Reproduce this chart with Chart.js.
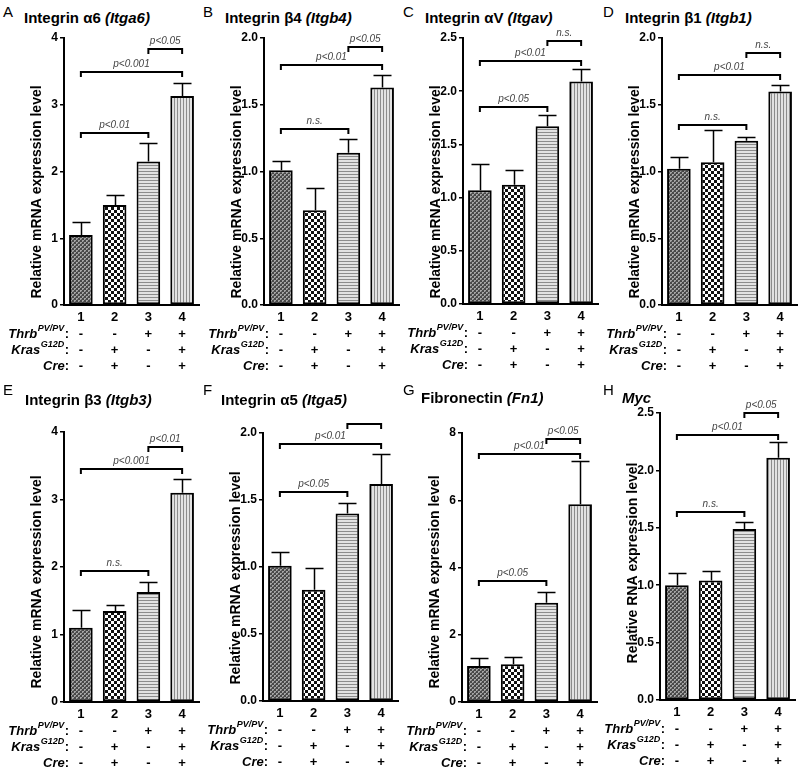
<!DOCTYPE html>
<html><head><meta charset="utf-8">
<script src="https://cdn.jsdelivr.net/npm/chart.js@4.4.1/dist/chart.umd.min.js"></script>
<style>
body{margin:0;background:#fff;}
#wrap{position:relative;width:800px;height:774px;overflow:hidden;font-family:"Liberation Sans",Arial,Helvetica,sans-serif;background:#fff;}
#wrap canvas{position:absolute;}
.lt{position:absolute;font-size:15px;color:#000;line-height:1;white-space:nowrap;}
.tt{position:absolute;font-size:15px;font-weight:bold;color:#000;line-height:1;white-space:nowrap;}
.tt i{font-style:italic;}
</style></head><body><div id="wrap"></div>
<script>
// ---- data ----
const groups = ["1","2","3","4"];
const rowNames = ["Thrb","Kras","Cre"];
const rowSups = ["PV/PV","G12D",""];
const thrbRow = ["-","-","+","+"];
const krasRow = ["-","+","-","+"];
const creRow  = ["-","+","-","+"];

const ticksInt4 = ["0","1","2","3","4"];
const ticks20 = ["0.0","0.5","1.0","1.5","2.0"];
const ticks25 = ["0.0","0.5","1.0","1.5","2.0","2.5"];
const ticks8 = ["0","2","4","6","8"];

const itga6Mean = [1.05, 1.50, 2.15, 3.13];
const itga6Sem  = [0.19, 0.15, 0.28, 0.20];
const itga6Sig  = [[0,2,2.57,"p<0.01"],[0,3,3.49,"p<0.001"],[2,3,3.84,"p<0.05"]];

const itgb4Mean = [1.01, 0.71, 1.14, 1.63];
const itgb4Sem  = [0.07, 0.17, 0.10, 0.09];
const itgb4Sig  = [[0,2,1.32,"n.s."],[0,3,1.80,"p<0.01"],[2,3,1.93,"p<0.05"]];

const itgavMean = [1.07, 1.12, 1.67, 2.09];
const itgavSem  = [0.25, 0.14, 0.11, 0.12];
const itgavSig  = [[0,2,1.85,"p<0.05"],[0,3,2.28,"p<0.01"],[2,3,2.47,"n.s."]];

const itgb1Mean = [1.02, 1.07, 1.23, 1.60];
const itgb1Sem  = [0.09, 0.24, 0.03, 0.05];
const itgb1Sig  = [[0,2,1.35,"n.s."],[0,3,1.72,"p<0.01"],[2,3,1.89,"n.s."]];

const itgb3Mean = [1.10, 1.35, 1.63, 3.10];
const itgb3Sem  = [0.27, 0.09, 0.15, 0.21];
const itgb3Sig  = [[0,2,1.94,"n.s."],[0,3,3.45,"p<0.001"],[2,3,3.78,"p<0.01"]];

const itga5Mean = [1.01, 0.83, 1.40, 1.62];
const itga5Sem  = [0.10, 0.16, 0.08, 0.22];
const itga5Sig  = [[0,2,1.56,"p<0.05"],[0,3,1.92,"p<0.01"],[2,3,2.07,""]];

const fn1Mean = [1.07, 1.12, 2.95, 5.88];
const fn1Sem  = [0.23, 0.23, 0.33, 1.30];
const fn1Sig  = [[0,2,3.60,"p<0.05"],[0,3,7.38,"p<0.01"],[2,3,7.83,"p<0.05"]];

const mycMean = [1.00, 1.04, 1.49, 2.11];
const mycSem  = [0.11, 0.08, 0.06, 0.14];
const mycSig  = [[0,2,1.64,"n.s."],[0,3,2.31,"p<0.01"],[2,3,2.50,"p<0.05"]];

const mrnaTitle = "Relative mRNA expression level";
const rnaTitle = "Relative RNA expression level";

// ---- panels (layout separate from data) ----
const FONT = '"Liberation Sans", Arial, Helvetica, sans-serif';
const panels = [
 {letter:"A", title:'Integrin \u03b16 <i>(Itga6)</i>', px:0,   py:0,   axis:63,  top:38,  bottom:305, max:4,   step:1,   ticks:ticksInt4, mean:itga6Mean, sem:itga6Sem, sig:itga6Sig, ytitle:mrnaTitle, ty:192, lx:3,   tx:24},
 {letter:"B", title:'Integrin \u03b24 <i>(Itgb4)</i>', px:200, py:0,   axis:263, top:38,  bottom:305, max:2,   step:0.5, ticks:ticks20,   mean:itgb4Mean, sem:itgb4Sem, sig:itgb4Sig, ytitle:mrnaTitle, ty:192, lx:203, tx:225},
 {letter:"C", title:'Integrin \u03b1V <i>(Itgav)</i>', px:400, py:0,   axis:462, top:38,  bottom:304, max:2.5, step:0.5, ticks:ticks25,   mean:itgavMean, sem:itgavSem, sig:itgavSig, ytitle:mrnaTitle, ty:192, lx:403, tx:425},
 {letter:"D", title:'Integrin \u03b21 <i>(Itgb1)</i>', px:600, py:0,   axis:661, top:38,  bottom:305, max:2,   step:0.5, ticks:ticks20,   mean:itgb1Mean, sem:itgb1Sem, sig:itgb1Sig, ytitle:mrnaTitle, ty:192, lx:603, tx:625},
 {letter:"E", title:'Integrin \u03b23 <i>(Itgb3)</i>', px:0,   py:387, axis:63,  top:432, bottom:702, max:4,   step:1,   ticks:ticksInt4, mean:itgb3Mean, sem:itgb3Sem, sig:itgb3Sig, ytitle:mrnaTitle, ty:582, lx:3,   tx:25},
 {letter:"F", title:'Integrin \u03b15 <i>(Itga5)</i>', px:200, py:387, axis:262, top:433, bottom:701, max:2,   step:0.5, ticks:ticks20,   mean:itga5Mean, sem:itga5Sem, sig:itga5Sig, ytitle:mrnaTitle, ty:578, lx:203, tx:221},
 {letter:"G", title:'Fibronectin <i>(Fn1)</i>',       px:400, py:387, axis:461, top:433, bottom:702, max:8,   step:2,   ticks:ticks8,    mean:fn1Mean,   sem:fn1Sem,   sig:fn1Sig,   ytitle:mrnaTitle, ty:582, lx:403, tx:421},
 {letter:"H", title:'<i>Myc</i>',                      px:600, py:387, axis:659, top:413, bottom:700, max:2.5, step:0.5, ticks:ticks25,   mean:mycMean,   sem:mycSem,   sig:mycSig,   ytitle:rnaTitle,  ty:563, lx:603, tx:622}
];
const rows = [thrbRow, krasRow, creRow];

function makePattern(kind){
  const c = document.createElement('canvas'); const g = c.getContext('2d');
  if(kind===0){ c.width=4;c.height=4; g.fillStyle='#a4a4a4'; g.fillRect(0,0,4,4); g.fillStyle='#484848'; g.fillRect(0,0,2,2); g.fillRect(2,2,2,2); g.fillStyle='#666'; g.fillRect(1,3,1,1); g.fillRect(3,1,1,1); }
  else if(kind===1){ c.width=6;c.height=6; g.fillStyle='#ffffff'; g.fillRect(0,0,6,6); g.fillStyle='#111'; g.fillRect(0,0,3,3); g.fillRect(3,3,3,3); }
  else if(kind===2){ c.width=1;c.height=3; g.fillStyle='#e2e2e2'; g.fillRect(0,0,1,3); g.fillStyle='#8c8c8c'; g.fillRect(0,0,1,1); }
  else { c.width=3;c.height=1; g.fillStyle='#e2e2e2'; g.fillRect(0,0,3,1); g.fillStyle='#8c8c8c'; g.fillRect(0,0,1,1); }
  return g.createPattern(c,'repeat');
}
const fills = [makePattern(0),makePattern(1),makePattern(2),makePattern(3)];

const wrap = document.getElementById('wrap');
const CW = 200, CH = 387, PLOTW = 135;

panels.forEach(p=>{
  const lt = document.createElement('div'); lt.className='lt'; lt.textContent=p.letter;
  lt.style.left=p.lx+'px'; lt.style.top=(p.py===0?4:382)+'px'; wrap.appendChild(lt);
  const tt = document.createElement('div'); tt.className='tt'; tt.innerHTML=p.title;
  tt.style.left=p.tx+'px'; tt.style.top=(p.py===0?10:(p.letter==='G'||p.letter==='H'?390:392))+'px'; wrap.appendChild(tt);

  const cv = document.createElement('canvas'); cv.width=CW; cv.height=CH;
  cv.style.left=p.px+'px'; cv.style.top=p.py+'px'; cv.style.width=CW+'px'; cv.style.height=CH+'px';
  wrap.appendChild(cv);
  const chartLeft = p.axis + 1 - p.px;
  const padTop = p.top - p.py;
  const padBottom = CH - (p.bottom - p.py) - 20;
  const padRight = CW - chartLeft - PLOTW;

  const extras = {
    id:'extras'+p.letter,
    afterDatasetsDraw(chart){
      const ctx=chart.ctx, ys=chart.scales.y, meta=chart.getDatasetMeta(0);
      ctx.save();
      ctx.strokeStyle='#000'; ctx.lineWidth=1.5;
      p.mean.forEach((m,i)=>{
        const x=Math.round(meta.data[i].x)+0.5;
        const y0=ys.getPixelForValue(m), y1=Math.round(ys.getPixelForValue(m+p.sem[i]))+0.5;
        ctx.beginPath(); ctx.moveTo(x,y0); ctx.lineTo(x,y1); ctx.moveTo(x-9,y1); ctx.lineTo(x+9,y1); ctx.stroke();
      });
      ctx.lineWidth=2;
      p.sig.forEach(([a,b,v,lab])=>{
        const xa=meta.data[a].x, xb=meta.data[b].x, y=Math.round(ys.getPixelForValue(v));
        ctx.beginPath(); ctx.moveTo(xa,y+5); ctx.lineTo(xa,y); ctx.lineTo(xb,y); ctx.lineTo(xb,y+5); ctx.stroke();
        if(lab){
          ctx.font='italic 10px '+FONT; ctx.fillStyle='#444'; ctx.textAlign='center'; ctx.textBaseline='alphabetic';
          ctx.fillText(lab,(xa+xb)/2,y-5);
        }
      });
      ctx.restore();
    },
    afterDraw(chart){
      const ctx=chart.ctx, meta=chart.getDatasetMeta(0);
      const base = p.bottom - p.py;
      ctx.save();
      ctx.fillStyle='#000'; ctx.textBaseline='middle';
      const rx = chartLeft + 5;
      rows.forEach((row,r)=>{
        const y = base + 29 + r*16;
        ctx.font='bold 13px '+FONT; const wc = ctx.measureText(':').width;
        ctx.font='bold italic 9px '+FONT; const ws = rowSups[r]? ctx.measureText(rowSups[r]).width+1 : 0;
        ctx.font='bold italic 13px '+FONT; const wn = ctx.measureText(rowNames[r]).width;
        let x0 = rx - wc - ws - wn;
        ctx.textAlign='left';
        ctx.fillText(rowNames[r], x0, y);
        if(rowSups[r]){ ctx.font='bold italic 9px '+FONT; ctx.fillText(rowSups[r], x0+wn+0.5, y-5); }
        ctx.font='bold 13px '+FONT; ctx.fillText(':', rx-wc, y);
        ctx.textAlign='center';
        row.forEach((s,i)=>{ ctx.fillText(s, meta.data[i].x, y); });
      });
      ctx.translate(chartLeft-27, p.ty - p.py);
      ctx.rotate(-Math.PI/2);
      ctx.font='bold 14px '+FONT; ctx.textAlign='center'; ctx.textBaseline='middle';
      ctx.fillText(p.ytitle, 0, 0);
      ctx.restore();
    }
  };

  new Chart(cv.getContext('2d'), {
    type:'bar',
    data:{ labels:groups, datasets:[{ data:p.mean, backgroundColor:fills, borderColor:'#000', borderWidth:2, borderSkipped:false, barPercentage:0.7, categoryPercentage:1 }]},
    options:{
      responsive:false, animation:false, devicePixelRatio:1,
      layout:{ autoPadding:false, padding:{left:0,right:padRight,top:padTop,bottom:padBottom} },
      plugins:{ legend:{display:false}, tooltip:{enabled:false}, title:{display:false} },
      scales:{
        x:{ grid:{display:true, drawOnChartArea:false, drawTicks:false}, border:{display:true,color:'#000',width:2},
            ticks:{ color:'#000', font:{family:FONT, size:13, weight:'bold'}, padding:5 },
            afterFit(s){ s.height=20; } },
        y:{ min:0, max:p.max, grid:{drawOnChartArea:false, drawTicks:true, tickLength:4, color:'#000', lineWidth:1.5},
            border:{display:true,color:'#000',width:2},
            ticks:{ stepSize:p.step, color:'#000', padding:2, font:{family:FONT, size:12, weight:'bold'}, callback:(v,i)=>p.ticks[i] },
            afterFit(s){ s.width=chartLeft; } }
      }
    },
    plugins:[extras]
  });
});
</script></body></html>
